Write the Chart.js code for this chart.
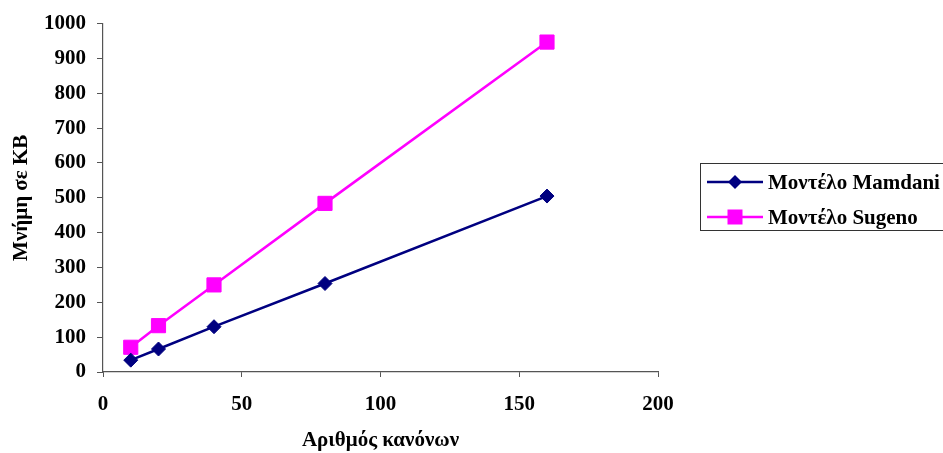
<!DOCTYPE html>
<html>
<head>
<meta charset="utf-8">
<script src="https://cdn.jsdelivr.net/npm/chart.js@4/dist/chart.umd.min.js"></script>
<style>
    html, body { margin: 0; padding: 0; background: #fff; overflow: hidden; }
    #wrap { position: relative; width: 943px; height: 453px; }
    #legend {
        position: absolute; left: 700px; top: 163px; width: 260px; height: 68px;
        border: 1px solid #333; box-sizing: border-box;
        font-family: 'Liberation Serif', 'Times New Roman', serif; font-weight: bold; font-size: 21px; color: #000;
    }
    .item { position: absolute; left: 6px; height: 24px; display: flex; align-items: center; white-space: nowrap; }
    .item svg { margin-right: 5px; }
</style>
</head>
<body>
<div id="wrap">
    <canvas id="memChart" width="943" height="453"></canvas>
    <div id="legend"></div>
</div>
<script>
// δεδομένα του διαγράμματος
const rules = [10, 20, 40, 80, 160];          // Αριθμός κανόνων
const mamdani = [34, 66, 130, 254, 505];      // Μνήμη σε KB - Mamdani
const sugeno = [71, 133, 250, 484, 947];      // Μνήμη σε KB - Sugeno
const xTicks = [0, 50, 100, 150, 200];
const yTicks = [0, 100, 200, 300, 400, 500, 600, 700, 800, 900, 1000];
const seriesNames = ['Μοντέλο Mamdani', 'Μοντέλο Sugeno'];

const serif = "'Liberation Serif', 'Times New Roman', serif";

function toPoints(values) {
    return rules.map((r, i) => ({ x: r, y: values[i] }));
}

const ctx = document.getElementById('memChart').getContext('2d');
new Chart(ctx, {
    type: 'line',
    data: {
        datasets: [{
            label: seriesNames[0],
            data: toPoints(mamdani),
            borderColor: '#000080',
            backgroundColor: '#000080',
            borderWidth: 2.5,
            pointStyle: 'rectRot',
            pointRadius: 7,
            pointBorderWidth: 1,
        }, {
            label: seriesNames[1],
            data: toPoints(sugeno),
            borderColor: '#FF00FF',
            backgroundColor: '#FF00FF',
            borderWidth: 2.5,
            pointStyle: 'rect',
            pointRadius: 10,
            pointBorderWidth: 1,
        }]
    },
    options: {
        responsive: false,
        animation: false,
        layout: { padding: { left: 0, top: 23, right: 285, bottom: 0 } },
        plugins: { legend: { display: false }, tooltip: { enabled: false } },
        scales: {
            x: {
                type: 'linear',
                min: xTicks[0],
                max: xTicks[xTicks.length - 1],
                afterBuildTicks: s => { s.ticks = xTicks.map(v => ({ value: v })); },
                afterFit: s => { s.height = 81; },
                border: { color: '#555', width: 1.2 },
                grid: { drawOnChartArea: false, tickLength: 5, color: '#555' },
                ticks: {
                    color: '#000', padding: 15, maxRotation: 0,
                    callback: v => String(v),
                    font: { family: serif, size: 21, weight: 'bold' }
                },
                title: {
                    display: true, text: 'Αριθμός κανόνων', color: '#000',
                    padding: { top: 0, bottom: 0 },
                    font: { family: serif, size: 21, weight: 'bold' }
                }
            },
            y: {
                min: yTicks[0],
                max: yTicks[yTicks.length - 1],
                afterBuildTicks: s => { s.ticks = yTicks.map(v => ({ value: v })); },
                afterFit: s => { s.width = 103; },
                border: { color: '#555', width: 1.2 },
                grid: { drawOnChartArea: false, tickLength: 6, color: '#555' },
                ticks: {
                    color: '#000', padding: 11,
                    callback: v => String(v),
                    font: { family: serif, size: 21, weight: 'bold' }
                },
                title: {
                    display: true, text: 'Μνήμη σε KB', color: '#000',
                    padding: { top: 9, bottom: 0 },
                    font: { family: serif, size: 21, weight: 'bold' }
                }
            }
        }
    }
});

// υπόμνημα δίπλα στο διάγραμμα
const legendStyles = [
    { color: '#000080', marker: '<polygon points="28,3 35,10 28,17 21,10" fill="#000080"/>' },
    { color: '#FF00FF', marker: '<rect x="20.5" y="2.5" width="15" height="15" fill="#FF00FF"/>' }
];
const legendEl = document.getElementById('legend');
seriesNames.forEach((name, i) => {
    const item = document.createElement('div');
    item.className = 'item';
    item.style.top = (i === 0 ? 6 : 41) + 'px';
    item.innerHTML = `
        <svg width="56" height="20"><line x1="0" y1="10" x2="56" y2="10" stroke="${legendStyles[i].color}" stroke-width="2.5"/>${legendStyles[i].marker}</svg>
        <span>${name}</span>`;
    legendEl.appendChild(item);
});
</script>
</body>
</html>
